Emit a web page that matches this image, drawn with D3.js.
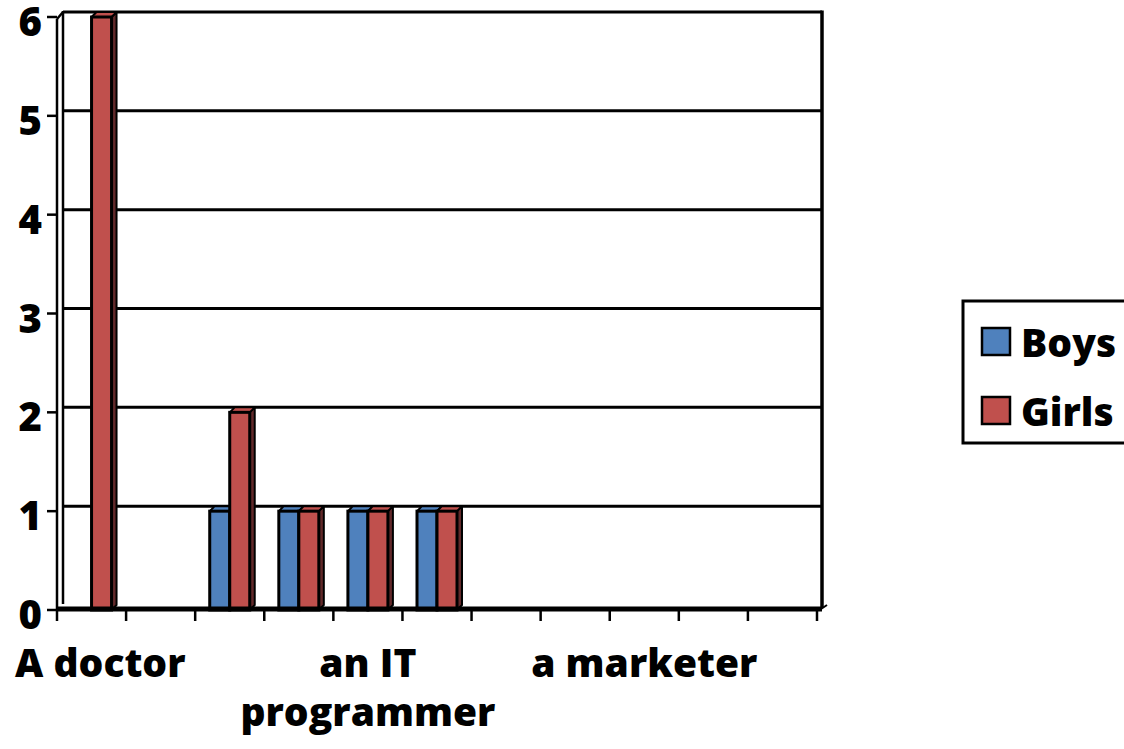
<!DOCTYPE html>
<html>
<head>
<meta charset="utf-8">
<script src="https://cdn.jsdelivr.net/npm/d3@7"></script>
<style>
  html, body { margin: 0; padding: 0; background: #ffffff; }
  svg { display: block; }
  text { font-family: "Open Sans", "Liberation Sans", sans-serif; font-weight: 800; fill: #000; }
</style>
</head>
<body>
<svg id="chart" width="1124" height="749"></svg>
<script>
// ---- data ----
const categories = ["A doctor", "", "", "", "an IT programmer", "", "", "", "a marketer", "", ""];
const seriesNames = ["Boys", "Girls"];
const boys  = [0, 0, 1, 1, 1, 1, 0, 0, 0, 0, 0];
const girls = [6, 0, 2, 1, 1, 1, 0, 0, 0, 0, 0];
const yTicks = [0, 1, 2, 3, 4, 5, 6];
const seriesColors = { Boys: "#4F81BD", Girls: "#C0504D" };
const sideColors   = { Boys: "#2B4A70", Girls: "#62292A" };

// ---- layout ----
const svg = d3.select("#chart");
const plot = { left: 57, right: 817, wallRight: 822, bottom: 610, top: 17 };
const wallDx = 6, wallDy = -6;   // depth of back wall
const barDx = 5, barDy = -5;     // depth of bars

const x = d3.scaleBand().domain(d3.range(categories.length)).range([plot.left, plot.right]).paddingInner(0).paddingOuter(0);
const y = d3.scaleLinear().domain([0, 6]).range([plot.bottom, plot.top]);
const barW = 20;
const xs = d3.scaleBand().domain(seriesNames).range([-barW, barW]);

// back wall gridlines
const g = svg.append("g");
g.selectAll("line.grid").data(yTicks.filter(v => v > 0)).join("line")
  .attr("x1", plot.left + wallDx).attr("x2", plot.wallRight)
  .attr("y1", d => y(d) + wallDy + 1).attr("y2", d => y(d) + wallDy + 1)
  .attr("stroke", "#000").attr("stroke-width", 3);

// left wall
g.append("line").attr("x1", plot.left).attr("x2", plot.left)
  .attr("y1", y(0)).attr("y2", y(6) + 2).attr("stroke", "#000").attr("stroke-width", 2.5);
g.append("line").attr("x1", plot.left + wallDx).attr("x2", plot.left + wallDx)
  .attr("y1", y(0) + wallDy).attr("y2", y(6) + wallDy).attr("stroke", "#000").attr("stroke-width", 2.5);
g.append("line").attr("x1", plot.left).attr("x2", plot.left + wallDx)
  .attr("y1", y(6) + 2).attr("y2", y(6) + wallDy + 1).attr("stroke", "#000").attr("stroke-width", 2.5);
// right wall edge
g.append("line").attr("x1", plot.wallRight).attr("x2", plot.wallRight)
  .attr("y1", y(6) + wallDy - 0.5).attr("y2", y(0) - 2).attr("stroke", "#000").attr("stroke-width", 3.5);

// y ticks (front) and labels
g.selectAll("line.ytick").data(yTicks).join("line")
  .attr("x1", plot.left - 10).attr("x2", plot.left)
  .attr("y1", d => y(d)).attr("y2", d => y(d))
  .attr("stroke", "#000").attr("stroke-width", 2.5);
g.selectAll("text.ylab").data(yTicks).join("text")
  .attr("x", 42).attr("y", d => y(d) + 19)
  .attr("text-anchor", "end").attr("font-size", 40)
  .text(d => d);

// bars
const rows = categories.map((c, i) => [
  { i, s: "Boys", v: boys[i] },
  { i, s: "Girls", v: girls[i] }
]).flat();

const bars = svg.append("g").selectAll("g.bar").data(rows).join("g");
bars.each(function(d) {
  const gb = d3.select(this);
  const cx = x(d.i) + x.bandwidth() / 2;
  const x0 = cx + xs(d.s), x1 = x0 + xs.bandwidth();
  const yt = y(d.v), yb = y(0);
  if (d.v <= 0) return;
  // side
  gb.append("polygon")
    .attr("points", [[x1, yt], [x1 + barDx, yt + barDy], [x1 + barDx, yb + barDy], [x1, yb]].join(" "))
    .attr("fill", sideColors[d.s]).attr("stroke", "#000").attr("stroke-width", 2).attr("stroke-linejoin", "round");
  // top
  gb.append("polygon")
    .attr("points", [[x0, yt], [x0 + barDx, yt + barDy], [x1 + barDx, yt + barDy], [x1, yt]].join(" "))
    .attr("fill", seriesColors[d.s]).attr("stroke", "#000").attr("stroke-width", 2).attr("stroke-linejoin", "round");
  // front
  gb.append("rect")
    .attr("x", x0).attr("y", yt).attr("width", x1 - x0).attr("height", yb - yt)
    .attr("fill", seriesColors[d.s]).attr("stroke", "#000").attr("stroke-width", 3);
});

// floor (thick base line)
svg.append("line").attr("x1", plot.left).attr("x2", plot.wallRight)
  .attr("y1", y(0) - 1).attr("y2", y(0) - 1).attr("stroke", "#000").attr("stroke-width", 5);
svg.append("line").attr("x1", plot.wallRight - 1).attr("x2", plot.wallRight + 5)
  .attr("y1", y(0) - 1).attr("y2", y(0) - 5).attr("stroke", "#000").attr("stroke-width", 2);

// x ticks
const xTickPos = d3.range(categories.length + 1).map(i => plot.left + i * x.step());
svg.selectAll("line.xtick").data(xTickPos).join("line")
  .attr("x1", d => d).attr("x2", d => d)
  .attr("y1", y(0) + 1).attr("y2", y(0) + 11)
  .attr("stroke", "#000").attr("stroke-width", 2.5);

// x labels (every 4th category shown)
const labelG = svg.append("g");
categories.forEach((c, i) => {
  if (i % 4 !== 0 || !c) return;
  const cx = x(i) + x.bandwidth() / 2;
  const words = c.split(" ");
  let lines = [c];
  if (c.length > 10) {
    const last = words.pop();
    lines = [words.join(" "), last];
  }
  const t = labelG.append("text").attr("text-anchor", "middle").attr("font-size", 39);
  lines.forEach((ln, k) => {
    t.append("tspan").attr("x", cx).attr("y", 677 + k * 49).text(ln);
  });
  // keep label inside the left edge
  const bb = t.node().getBBox();
  if (bb.x < 15) {
    t.selectAll("tspan").attr("x", cx + (15 - bb.x));
  }
});

// legend
const lg = svg.append("g");
lg.append("rect").attr("x", 963).attr("y", 301).attr("width", 200).attr("height", 142)
  .attr("fill", "#fff").attr("stroke", "#000").attr("stroke-width", 3);
seriesNames.forEach((s, k) => {
  const yy = 328 + k * 69;
  lg.append("rect").attr("x", 982).attr("y", yy).attr("width", 28).attr("height", 27)
    .attr("fill", seriesColors[s]).attr("stroke", "#000").attr("stroke-width", 2.5);
  lg.append("text").attr("x", 1021).attr("y", yy + 29).attr("font-size", 39).text(s);
});
</script>
</body>
</html>
